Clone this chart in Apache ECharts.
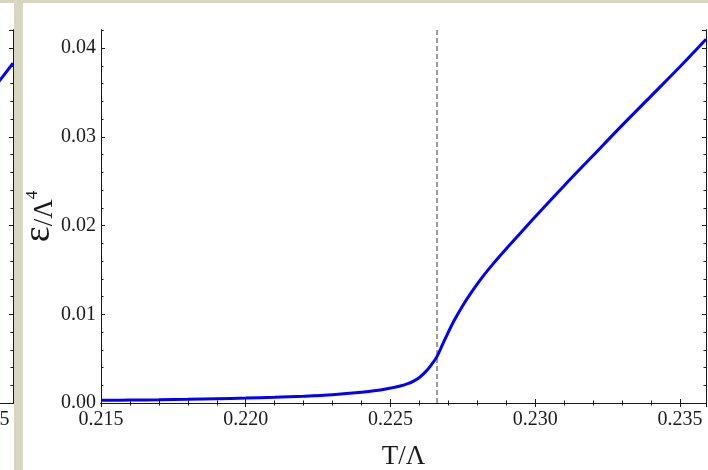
<!DOCTYPE html>
<html>
<head>
<meta charset="utf-8">
<script src="https://cdn.jsdelivr.net/npm/echarts@6/dist/echarts.min.js"></script>
<style>
  html, body { margin: 0; padding: 0; background: #ffffff; }
  #chart { width: 708px; height: 470px; }
</style>
</head>
<body>
<div id="chart"></div>
<script>
// Energy density ε/Λ⁴ versus temperature T/Λ
const temperature = [0.2150, 0.2160, 0.2170, 0.2180, 0.2190, 0.2200, 0.2210, 0.2220, 0.2230, 0.2240,
  0.2245, 0.2250, 0.2253, 0.2256, 0.2258, 0.2260, 0.2262, 0.2264, 0.2266, 0.2268, 0.2270, 0.2272, 0.2275,
  0.2278, 0.2282, 0.2286, 0.2290, 0.2295, 0.2300, 0.2310, 0.2320, 0.2330, 0.2340, 0.2350, 0.2359];
const energy = [0.00030, 0.00033, 0.00037, 0.00042, 0.00048, 0.00055, 0.00064, 0.00076, 0.00093, 0.00120,
  0.00140, 0.00168, 0.00188, 0.00218, 0.00247, 0.00288, 0.00348, 0.00425, 0.00520, 0.00660, 0.00800, 0.00930, 0.01100,
  0.01250, 0.01430, 0.01590, 0.01740, 0.01920, 0.02100, 0.02450, 0.02790, 0.03130, 0.03460, 0.03790, 0.04100];

// Transition temperature (dashed marker)
const transitionT = 0.22661;

// Neighbouring panel (only its right edge is in view)
const neighbourT = [0.2340, 0.2350, 0.2359];
const neighbourE = [0.0303, 0.0345, 0.0383];

// Axis ranges and tick steps
const xRange = [0.215, 0.2359];
const yRange = [0, 0.04205];
const xMajor = 0.005, xMinor = 0.001;
const yMajor = 0.01, yMinor = 0.002;

const FONT = "'Liberation Serif', 'Times New Roman', serif";
const INK = '#1a1a1a';

const mainRect = { left: 101, top: 30, width: 605, height: 373, outerBoundsMode: 'none', containLabel: false };
const sideRect = { left: -592, top: 30, width: 605, height: 373, outerBoundsMode: 'none', containLabel: false };

function pairs(xs, ys) { return xs.map((x, i) => [x, ys[i]]); }

function axisBase(range, step, pos, gridIndex, opts) {
  return Object.assign({
    type: 'value', gridIndex: gridIndex, position: pos,
    min: range[0], max: range[1], interval: step,
    axisLine: { show: true, lineStyle: { color: INK, width: 1 } },
    axisTick: { show: true, inside: true, length: 4, lineStyle: { color: INK, width: 1 } },
    axisLabel: { show: false },
    splitLine: { show: false },
    minorTick: { show: false }
  }, opts || {});
}

const minorTick = { show: true, inside: true, length: 2.5, lineStyle: { color: INK, width: 1 } };
const tickLabel = (digits) => ({
  show: true, color: INK, fontFamily: FONT, fontSize: 20,
  showMaxLabel: false, formatter: v => v.toFixed(digits)
});

const chart = echarts.init(document.getElementById('chart'), null, { renderer: 'canvas' });

const option = {
  backgroundColor: '#ffffff',
  animation: false,
  grid: [
    Object.assign({}, mainRect),  // 0: main, bottom/left major ticks + labels
    Object.assign({}, mainRect),  // 1: main, bottom/left minor ticks
    Object.assign({}, mainRect),  // 2: main, top/right major ticks
    Object.assign({}, mainRect),  // 3: main, top/right minor ticks
    Object.assign({}, sideRect),  // 4: neighbour panel, major
    Object.assign({}, sideRect)   // 5: neighbour panel, minor
  ],
  xAxis: [
    axisBase(xRange, xMajor, 'bottom', 0, {
      axisLabel: Object.assign(tickLabel(3), { margin: 7 }),
      name: 'T/Λ', nameLocation: 'middle', nameGap: 40,
      nameTextStyle: { color: INK, fontFamily: FONT, fontSize: 27 }
    }),
    axisBase(xRange, xMinor, 'bottom', 1, { axisTick: minorTick }),
    axisBase(xRange, xMajor, 'top', 2),
    axisBase(xRange, xMinor, 'top', 3, { axisTick: minorTick }),
    axisBase(xRange, xMajor, 'bottom', 4, {
      axisTick: { show: false },
      axisLabel: Object.assign(tickLabel(3), { margin: 7 })
    }),
    axisBase(xRange, xMajor, 'top', 5, { axisTick: { show: false } })
  ],
  yAxis: [
    axisBase(yRange, yMajor, 'left', 0, {
      axisLabel: Object.assign(tickLabel(2), { margin: 5 }),
      name: '{e|ε}{s|/Λ}{p|4}', nameLocation: 'middle', nameRotate: 90, nameGap: 43,
      nameMoveOverlap: false,
      nameTextStyle: {
        color: INK, fontFamily: FONT,
        rich: {
          e: { fontFamily: FONT, fontSize: 38, color: INK, verticalAlign: 'bottom', lineHeight: 34 },
          s: { fontFamily: FONT, fontSize: 27, color: INK, verticalAlign: 'bottom', lineHeight: 34 },
          p: { fontFamily: FONT, fontSize: 17, color: INK, verticalAlign: 'top', lineHeight: 34 }
        }
      }
    }),
    axisBase(yRange, yMinor, 'left', 1, { axisTick: minorTick }),
    axisBase(yRange, yMajor, 'right', 2),
    axisBase(yRange, yMinor, 'right', 3, { axisTick: minorTick }),
    axisBase(yRange, yMajor, 'right', 4),
    axisBase(yRange, yMinor, 'right', 5, { axisTick: minorTick })
  ],
  series: [
    {
      // vertical dashed marker at the transition temperature
      type: 'line', xAxisIndex: 0, yAxisIndex: 0,
      data: [[transitionT, yRange[0]], [transitionT, yRange[1]]],
      showSymbol: false, silent: true,
      lineStyle: { color: '#9a9a9a', type: [5, 3], width: 2 },
      z: 2
    },
    {
      type: 'line', xAxisIndex: 0, yAxisIndex: 0,
      data: pairs(temperature, energy),
      showSymbol: false, smooth: 0.35, clip: true,
      lineStyle: { color: '#0000ff', width: 3 },
      z: 3
    },
    {
      type: 'line', xAxisIndex: 4, yAxisIndex: 4,
      data: pairs(neighbourT, neighbourE),
      showSymbol: false, smooth: 0.35, clip: true,
      lineStyle: { color: '#0000ff', width: 3 }
    }
  ],
  graphic: [
    { type: 'rect', shape: { x: 0, y: 0, width: 708, height: 3 }, style: { fill: '#d8d6c1' }, z: 100 },
    { type: 'rect', shape: { x: 14, y: 0, width: 9, height: 470 }, style: { fill: '#d8d6c1' }, z: 100 }
  ]
};

chart.setOption(option);
</script>
</body>
</html>
